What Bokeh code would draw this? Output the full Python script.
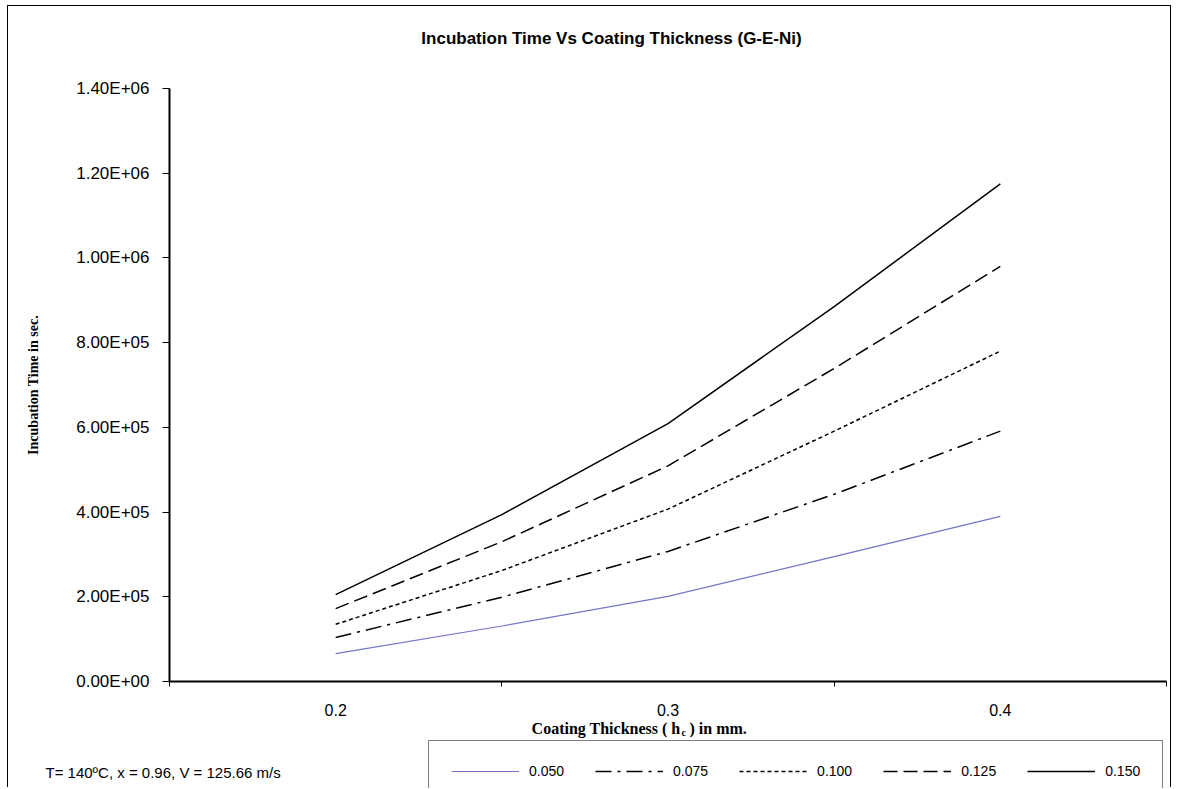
from bokeh.plotting import figure
from bokeh.models import FixedTicker, Label, Legend, LegendItem, Range1d
from bokeh.embed import file_html
from bokeh.resources import INLINE

# ---------------- data ----------------
thickness = [0.20, 0.25, 0.30, 0.35, 0.40]
series_names = ["0.050", "0.075", "0.100", "0.125", "0.150"]
s050 = [66000, 131000, 201000, 295000, 390000]
s075 = [104000, 199000, 307000, 442000, 591000]
s100 = [135000, 262000, 407000, 591000, 780000]
s125 = [172000, 330000, 509000, 739000, 980000]
s150 = [205000, 394000, 609000, 885000, 1175000]

x_ticks = [0.2, 0.3, 0.4]
x_tick_labels = ["0.2", "0.3", "0.4"]
x_minor = [0.15, 0.25, 0.35, 0.45]
y_ticks = [0, 200000, 400000, 600000, 800000, 1000000, 1200000, 1400000]
y_tick_labels = ["0.00E+00", "2.00E+05", "4.00E+05", "6.00E+05",
                 "8.00E+05", "1.00E+06", "1.20E+06", "1.40E+06"]

title_text = "Incubation Time Vs Coating Thickness (G-E-Ni)"
note_text = "T= 140\u00baC, x = 0.96, V = 125.66 m/s"

# ---------------- layout (page pixels) ----------------
X0, X1 = 0.15, 0.45
Y0, Y1 = 0, 1400000
FRAME_L, FRAME_R, FRAME_T, FRAME_B = 169, 1166, 88, 681   # plot area
CANVAS_L, CANVAS_T, W, H = 8, 6, 1164, 782               # figure canvas

SX = (X1 - X0) / (FRAME_R - FRAME_L)
SY = (Y1 - Y0) / (FRAME_B - FRAME_T)


def dx(px):
    return X0 + (px - FRAME_L) * SX


def dy(py):
    return Y0 + (FRAME_B - py) * SY


SANS = "Liberation Sans"
SERIF = "Liberation Serif"

p = figure(width=W, height=H,
           x_range=Range1d(dx(CANVAS_L), dx(CANVAS_L + W)),
           y_range=Range1d(dy(CANVAS_T + H), dy(CANVAS_T)),
           output_backend="svg", toolbar_location=None,
           min_border=0, min_border_left=0, min_border_right=0,
           min_border_top=0, min_border_bottom=0)
p.styles = {"margin-left": "7px", "margin-top": "5px",
            "border-left": "1px solid black",
            "border-top": "1px solid black",
            "border-right": "1px solid black"}
p.outline_line_color = None
p.grid.visible = False
p.background_fill_color = "white"
p.border_fill_color = "white"

# x axis
xa = p.xaxis[0]
xa.fixed_location = Y0
xa.bounds = (X0, X1)
xa.ticker = FixedTicker(ticks=x_ticks, minor_ticks=x_minor)
xa.major_label_overrides = {t: l for t, l in zip(x_ticks, x_tick_labels)}
xa.major_tick_out = 0
xa.major_tick_in = 0
xa.minor_tick_out = 5
xa.minor_tick_in = 0
xa.minor_tick_line_color = "black"
xa.axis_line_width = 2
xa.axis_line_color = "black"
xa.major_label_standoff = 17
xa.major_label_text_font = SANS
xa.major_label_text_font_size = "16px"
xa.major_label_text_color = "black"

# y axis
ya = p.yaxis[0]
ya.fixed_location = X0
ya.bounds = (Y0, Y1)
ya.ticker = FixedTicker(ticks=y_ticks)
ya.major_label_overrides = {t: l for t, l in zip(y_ticks, y_tick_labels)}
ya.major_tick_out = 7
ya.major_tick_in = 0
ya.minor_tick_out = 0
ya.minor_tick_in = 0
ya.axis_line_width = 2
ya.axis_line_color = "black"
ya.major_tick_line_color = "black"
ya.major_label_standoff = 13
ya.major_label_text_font = SANS
ya.major_label_text_font_size = "17px"
ya.major_label_text_color = "black"
ya.axis_label = "Incubation Time in sec."
ya.axis_label_text_font = SERIF
ya.axis_label_text_font_style = "bold"
ya.axis_label_text_font_size = "14px"
ya.axis_label_text_color = "black"
ya.axis_label_standoff = 32

# ---------------- lines ----------------
styles = [
    (s050, "#7474C8", 1.2, "solid"),
    (s075, "black", 1.5, "16 6 3 6"),
    (s100, "black", 1.5, "4 3"),
    (s125, "black", 1.5, "14 6"),
    (s150, "black", 1.5, "solid"),
]
items = []
for name, (ys, col, w, dash) in zip(series_names, styles):
    r = p.line(thickness, ys, line_color=col, line_width=w, line_dash=dash)
    items.append(LegendItem(label=name, renderers=[r]))

legend = Legend(items=items, orientation="horizontal",
                location=(428 - CANVAS_L, (CANVAS_T + H) - 802),
                border_line_color="black", border_line_width=1,
                background_fill_color="white", background_fill_alpha=1,
                padding=22, margin=0, spacing=31,
                glyph_width=68, glyph_height=16, label_standoff=10,
                label_text_font=SANS, label_text_font_size="14px",
                label_text_color="black")
p.add_layout(legend)

# ---------------- texts ----------------
p.add_layout(Label(x=dx(611), y=dy(38), text=title_text,
                   text_align="center", text_baseline="middle",
                   text_font=SANS, text_font_style="bold",
                   text_font_size="17px", text_color="black"))
p.add_layout(Label(x=dx(45), y=dy(772), text=note_text,
                   text_align="left", text_baseline="middle",
                   text_font=SANS, text_font_size="15px", text_color="black"))

# x-axis title with subscript
p.add_layout(Label(x=dx(680), y=dy(728), text="Coating Thickness ( h",
                   text_align="right", text_baseline="middle",
                   text_font=SERIF, text_font_style="bold",
                   text_font_size="16px", text_color="black"))
p.add_layout(Label(x=dx(681), y=dy(732), text="c",
                   text_align="left", text_baseline="middle",
                   text_font=SERIF, text_font_style="bold",
                   text_font_size="10px", text_color="black"))
p.add_layout(Label(x=dx(689), y=dy(728), text=") in  mm.",
                   text_align="left", text_baseline="middle",
                   text_font=SERIF, text_font_style="bold",
                   text_font_size="16px", text_color="black"))

open("out.html", "w").write(file_html(p, INLINE))
